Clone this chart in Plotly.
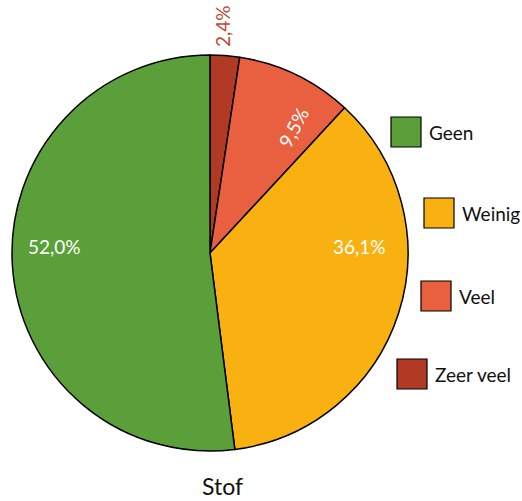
import plotly.graph_objects as go

# Data
categories = ["Zeer veel", "Veel", "Weinig", "Geen"]
values = [2.4, 9.5, 36.1, 52.0]
label_texts = ["2,4%", "9,5%", "36,1%", "52,0%"]
legend_order = ["Geen", "Weinig", "Veel", "Zeer veel"]
title_text = "Stof"

# Styles
colors = {"Zeer veel": "#B03A24", "Veel": "#E86040", "Weinig": "#F9B112", "Geen": "#5B9F3A"}
label_colors = ["#B84A3A", "white", "white", "white"]
label_pos = [(222, 26), (293, 127), (359, 246), (54, 246)]   # pixel positions of text labels
label_angles = [-90, -62, 0, 0]
legend_boxes = [(391, 117), (424, 198), (421, 281), (397, 359)]  # top-left of swatches (px)
FONT = "Lato"
W, H = 522, 501
cx, cy, R = 210, 253, 198


def px(x):
    return x / W


def py(y):
    return 1 - y / H


fig = go.Figure()
fig.add_trace(go.Pie(
    labels=categories,
    values=values,
    sort=False,
    direction="clockwise",
    rotation=0,
    marker=dict(colors=[colors[c] for c in categories], line=dict(color="black", width=1.5)),
    textinfo="none",
    hoverinfo="label+percent",
    showlegend=False,
    domain=dict(x=[px(cx - R), px(cx + R)], y=[py(cy + R), py(cy - R)]),
))

annotations = []
for t, c, (x, y), a in zip(label_texts, label_colors, label_pos, label_angles):
    annotations.append(dict(x=px(x), y=py(y), xref="paper", yref="paper", text=t,
                            showarrow=False, textangle=a,
                            font=dict(family=FONT, size=19, color=c),
                            xanchor="center", yanchor="middle"))

shapes = []
S = 30
for name, (x0, y0) in zip(legend_order, legend_boxes):
    shapes.append(dict(type="rect", xref="paper", yref="paper",
                       x0=px(x0), x1=px(x0 + S), y0=py(y0 + S), y1=py(y0),
                       fillcolor=colors[name], line=dict(color="black", width=1.2)))
    annotations.append(dict(x=px(x0 + S + 6), y=py(y0 + S / 2), xref="paper", yref="paper",
                            text=name, showarrow=False, xanchor="left", yanchor="middle",
                            font=dict(family=FONT, size=19, color="#111111")))

annotations.append(dict(x=px(222), y=py(486), xref="paper", yref="paper", text=title_text,
                        showarrow=False, xanchor="center", yanchor="middle",
                        font=dict(family=FONT, size=23, color="#111111")))

fig.update_layout(
    width=W, height=H,
    margin=dict(l=0, r=0, t=0, b=0),
    paper_bgcolor="white", plot_bgcolor="white",
    annotations=annotations, shapes=shapes,
)

fig.write_html("out.html", config={"displayModeBar": False},
               post_script="document.body.style.margin='0';document.body.style.overflow='hidden';")
